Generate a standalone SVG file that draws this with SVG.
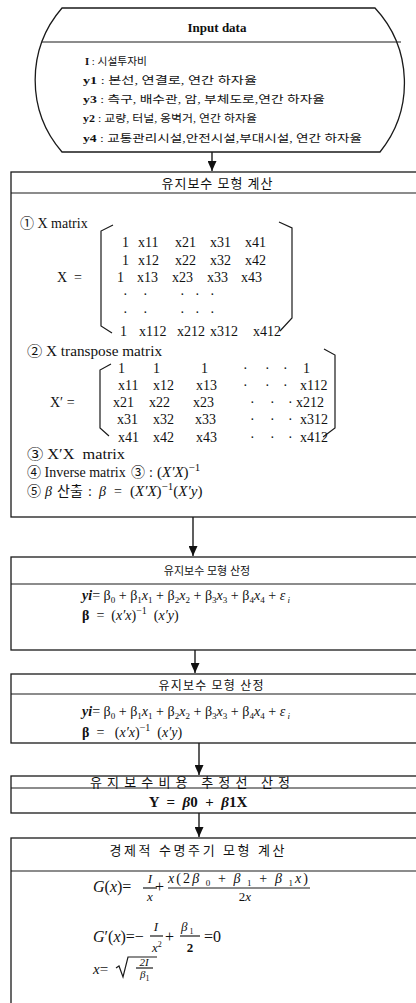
<svg xmlns="http://www.w3.org/2000/svg" width="416" height="1003" viewBox="0 0 416 1003">
<style>
.bx{fill:#fff;stroke:#1a1a1a;stroke-width:1.3}
.ln{stroke:#1a1a1a;stroke-width:1.2;fill:none}
.cn{stroke:#1a1a1a;stroke-width:1.4;fill:none}
text{fill:#111;font-family:"Liberation Serif","Noto Sans CJK KR","DejaVu Serif",serif;white-space:pre}
.in{font-size:10.5px}
.hd{font-size:13px;text-anchor:middle}
.m{font-size:14px}
.f{font-size:14px}
.s{font-size:13px}
.it{font-style:italic}
.b{font-weight:bold}
.sb{font-size:9px}
</style>
<defs>
<marker id="ah" markerUnits="userSpaceOnUse" markerWidth="10" markerHeight="9" refX="10" refY="4.5" orient="auto">
<path d="M0,0 L10,4.5 L0,9 Z" fill="#111"/>
</marker>
</defs>
<rect width="416" height="1003" fill="#fff"/>

<g id="connectors">
<line class="cn" x1="212" y1="152" x2="212" y2="171" marker-end="url(#ah)"/>
<line class="cn" x1="193" y1="517" x2="193" y2="556" marker-end="url(#ah)"/>
<line class="cn" x1="195" y1="650" x2="195" y2="673" marker-end="url(#ah)"/>
<line class="cn" x1="199" y1="743" x2="199" y2="775" marker-end="url(#ah)"/>
<line class="cn" x1="199" y1="813" x2="199" y2="837" marker-end="url(#ah)"/>
</g>

<g id="input-data">
<path class="bx" d="M62,8 L375,8 A110,110 0 0 1 380,152 L62,152 A110,110 0 0 1 62,8 Z"/>
<line class="ln" x1="42" y1="42" x2="401" y2="42"/>
<text x="217" y="32" class="b" font-size="13" text-anchor="middle">Input data</text>
<text x="85" y="65" class="in" textLength="62" lengthAdjust="spacingAndGlyphs"><tspan class="b">I</tspan> : 시설투자비</text>
<text x="83" y="84" class="in" textLength="174" lengthAdjust="spacingAndGlyphs"><tspan class="b">y1</tspan> : 본선, 연결로, 연간 하자율</text>
<text x="83" y="103" class="in" textLength="242" lengthAdjust="spacingAndGlyphs"><tspan class="b">y3</tspan> : 측구, 배수관, 암, 부체도로,연간 하자율</text>
<text x="83" y="122" class="in" textLength="174" lengthAdjust="spacingAndGlyphs"><tspan class="b">y2</tspan> : 교량, 터널, 옹벽거, 연간 하자율</text>
<text x="83" y="142" class="in" textLength="279" lengthAdjust="spacingAndGlyphs"><tspan class="b">y4</tspan> : 교통관리시설,안전시설,부대시설, 연간 하자율</text>
</g>

<g id="model-calc">
<rect class="bx" x="11" y="172" width="410" height="345"/>
<line class="ln" x1="11" y1="193" x2="421" y2="193"/>
<text x="217" y="187.5" class="hd" textLength="111" lengthAdjust="spacing">유지보수 모형 계산</text>
<text x="20" y="228" class="m">① X matrix</text>
<text x="57" y="281.5" class="m">X  =</text>
<polyline class="ln" points="113,225 101,231 101,326 112,333"/>
<polyline class="ln" points="279,222 292,228 292,318 280,331"/>
<g class="m">
<text x="122" y="246.5">1</text><text x="138" y="246.5">x11</text><text x="175" y="246.5">x21</text><text x="210" y="246.5">x31</text><text x="245" y="246.5">x41</text>
<text x="122" y="264.5">1</text><text x="138" y="264.5">x12</text><text x="175" y="264.5">x22</text><text x="210" y="264.5">x32</text><text x="245" y="264.5">x42</text>
<text x="117" y="281.5">1</text><text x="137" y="281.5">x13</text><text x="172" y="281.5">x23</text><text x="207" y="281.5">x33</text><text x="241" y="281.5">x43</text>
<text x="123" y="299">·</text><text x="143" y="299">·</text><text x="180" y="299">·</text><text x="195" y="299">·</text><text x="210" y="299">·</text>
<text x="123" y="317">·</text><text x="143" y="317">·</text><text x="180" y="317">·</text><text x="195" y="317">·</text><text x="210" y="317">·</text>
<text x="120" y="335.5">1</text><text x="139" y="335.5">x112</text><text x="177" y="335.5">x212</text><text x="210" y="335.5">x312</text><text x="253" y="335.5">x412</text>
</g>
<text x="27" y="356" class="m" textLength="135" lengthAdjust="spacingAndGlyphs">② X transpose matrix</text>
<text x="50" y="406.5" class="m">X′ =</text>
<polyline class="ln" points="111,364 100,370 100,428 109,436"/>
<polyline class="ln" points="324,349 335,355 335,428 323,437"/>
<g class="m">
<text x="118" y="372.5">1</text><text x="153" y="372.5">1</text><text x="201" y="372.5">1</text><text x="243" y="372.5">·</text><text x="265" y="372.5">·</text><text x="283" y="372.5">·</text><text x="303" y="372.5">1</text>
<text x="118" y="389.5">x11</text><text x="153" y="389.5">x12</text><text x="196" y="389.5">x13</text><text x="243" y="389.5">·</text><text x="265" y="389.5">·</text><text x="283" y="389.5">·</text><text x="300" y="389.5">x112</text>
<text x="113" y="406.5">x21</text><text x="149" y="406.5">x22</text><text x="193" y="406.5">x23</text><text x="250" y="406.5">·</text><text x="270" y="406.5">·</text><text x="288" y="406.5">·</text><text x="296" y="406.5">x212</text>
<text x="117" y="423.5">x31</text><text x="153" y="423.5">x32</text><text x="195" y="423.5">x33</text><text x="250" y="423.5">·</text><text x="270" y="423.5">·</text><text x="288" y="423.5">·</text><text x="300" y="423.5">x312</text>
<text x="118" y="441.5">x41</text><text x="153" y="441.5">x42</text><text x="196" y="441.5">x43</text><text x="250" y="441.5">·</text><text x="270" y="441.5">·</text><text x="288" y="441.5">·</text><text x="300" y="441.5">x412</text>
</g>
<text x="27" y="459" class="m" textLength="98" lengthAdjust="spacingAndGlyphs">③ X′X  matrix</text>
<text y="477" class="m"><tspan x="27">④ Inverse matrix</tspan><tspan x="131">③</tspan><tspan x="149">:</tspan><tspan x="157" font-size="15">(<tspan class="it">X′X</tspan>)</tspan><tspan font-size="11" baseline-shift="6">−1</tspan></text>
<text y="496" class="m"><tspan x="27">⑤</tspan><tspan x="45" class="it">β</tspan><tspan x="57">산출</tspan><tspan x="88">:</tspan><tspan x="99" class="it">β</tspan><tspan x="114">=</tspan><tspan x="130" font-size="15">(<tspan class="it">X′X</tspan>)</tspan><tspan font-size="11" baseline-shift="6">−1</tspan><tspan font-size="15">(<tspan class="it">X′y</tspan>)</tspan></text>
</g>

<g id="model-select-1">
<rect class="bx" x="11" y="557" width="410" height="93"/>
<line class="ln" x1="11" y1="584" x2="421" y2="584"/>
<text x="207" y="575" class="hd" font-size="11" style="font-size:11px">유지보수 모형 산정</text>
<text x="82" y="600" class="f" textLength="208" lengthAdjust="spacingAndGlyphs"><tspan class="it b">yi</tspan>= β<tspan class="sb" baseline-shift="-3">0</tspan> + β<tspan class="sb" baseline-shift="-3">1</tspan><tspan class="it">x</tspan><tspan class="sb" baseline-shift="-3">1</tspan> + β<tspan class="sb" baseline-shift="-3">2</tspan><tspan class="it">x</tspan><tspan class="sb" baseline-shift="-3">2</tspan> + β<tspan class="sb" baseline-shift="-3">3</tspan><tspan class="it">x</tspan><tspan class="sb" baseline-shift="-3">3</tspan> + β<tspan class="sb" baseline-shift="-3">4</tspan><tspan class="it">x</tspan><tspan class="sb" baseline-shift="-3">4</tspan> + <tspan class="it">ε</tspan><tspan class="it sb" baseline-shift="-3"> i</tspan></text>
<text x="82" y="620" class="f"><tspan class="b">β</tspan>  =  (<tspan class="it">x′x</tspan>)<tspan font-size="10" baseline-shift="6">−1</tspan>  (<tspan class="it">x′y</tspan>)</text>
</g>

<g id="model-select-2">
<rect class="bx" x="11" y="674" width="410" height="69"/>
<line class="ln" x1="11" y1="694" x2="421" y2="694"/>
<text x="211" y="690" class="hd" style="font-size:12px" textLength="105" lengthAdjust="spacing">유지보수 모형 산정</text>
<text x="82" y="716" class="f" textLength="208" lengthAdjust="spacingAndGlyphs"><tspan class="it b">yi</tspan>= β<tspan class="sb" baseline-shift="-3">0</tspan> + β<tspan class="sb" baseline-shift="-3">1</tspan><tspan class="it">x</tspan><tspan class="sb" baseline-shift="-3">1</tspan> + β<tspan class="sb" baseline-shift="-3">2</tspan><tspan class="it">x</tspan><tspan class="sb" baseline-shift="-3">2</tspan> + β<tspan class="sb" baseline-shift="-3">3</tspan><tspan class="it">x</tspan><tspan class="sb" baseline-shift="-3">3</tspan> + β<tspan class="sb" baseline-shift="-3">4</tspan><tspan class="it">x</tspan><tspan class="sb" baseline-shift="-3">4</tspan> + <tspan class="it">ε</tspan><tspan class="it sb" baseline-shift="-3"> i</tspan></text>
<text x="82" y="737" class="f"><tspan class="b">β</tspan>  =   (<tspan class="it">x′x</tspan>)<tspan font-size="10" baseline-shift="6">−1</tspan>  (<tspan class="it">x′y</tspan>)</text>
</g>

<g id="cost-line">
<rect class="bx" x="11" y="776" width="410" height="37"/>
<line class="ln" x1="11" y1="788" x2="421" y2="788"/>
<text x="190" y="787" class="hd" textLength="200" lengthAdjust="spacing">유지보수비용 추정선 산정</text>
<text x="198" y="807" class="b" font-size="15" text-anchor="middle">Y  =  <tspan class="it">β</tspan>0  +  <tspan class="it">β</tspan>1X</text>
</g>

<g id="life-cycle">
<rect class="bx" x="11" y="838" width="410" height="175"/>
<line class="ln" x1="11" y1="871" x2="421" y2="871"/>
<text x="197" y="855" class="hd" textLength="175" lengthAdjust="spacing">경제적 수명주기 모형 계산</text>
<text x="93" y="892" font-size="16"><tspan class="it">G</tspan>(<tspan class="it">x</tspan>)=</text>
<text x="150" y="883" class="s it" text-anchor="middle">I</text>
<line class="ln" x1="143" y1="888" x2="157" y2="888"/>
<text x="150" y="901" class="s it" text-anchor="middle">x</text>
<text x="155" y="892" font-size="16">+</text>
<text x="168" y="883" font-size="14" textLength="140" lengthAdjust="spacing"><tspan class="it">x</tspan>(2<tspan class="it">β</tspan><tspan class="sb" baseline-shift="-3"> 0</tspan> + <tspan class="it">β</tspan><tspan class="sb" baseline-shift="-3"> 1</tspan> + <tspan class="it">β</tspan><tspan class="sb" baseline-shift="-3"> 1</tspan><tspan class="it">x</tspan>)</text>
<line class="ln" x1="168" y1="888" x2="310" y2="888"/>
<text x="245" y="901" class="s" text-anchor="middle">2<tspan class="it">x</tspan></text>

<text x="93" y="942" font-size="16"><tspan class="it">G</tspan>′(<tspan class="it">x</tspan>)=−</text>
<text x="156" y="931" class="s it" text-anchor="middle">I</text>
<line class="ln" x1="150" y1="936" x2="163" y2="936"/>
<text x="152" y="952" class="s it">x<tspan font-size="8" baseline-shift="5" font-style="normal">2</tspan></text>
<text x="165" y="942" font-size="16">+</text>
<text x="181" y="931" class="s it">β<tspan font-size="8" baseline-shift="-3" font-style="normal"> 1</tspan></text>
<line class="ln" x1="180" y1="936" x2="200" y2="936"/>
<text x="190" y="952" class="s b" text-anchor="middle">2</text>
<text x="204" y="942" font-size="16">=0</text>

<text x="93" y="974" font-size="15"><tspan class="it">x</tspan>=</text>
<polyline class="ln" points="116,968 119,966 123,977 128,957 157,957"/>
<text x="144" y="966" class="it" text-anchor="middle" font-size="11">2I</text>
<line class="ln" x1="136" y1="968" x2="153" y2="968"/>
<text x="140" y="978" class="it" font-size="11">β<tspan font-size="8" baseline-shift="-3" font-style="normal">1</tspan></text>
</g>
</svg>
